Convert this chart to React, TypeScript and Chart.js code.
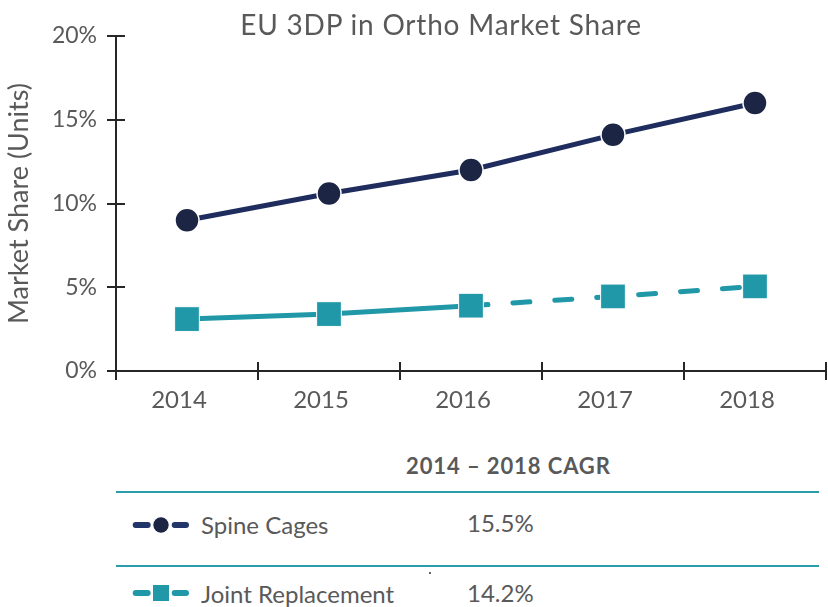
import React, { useEffect, useRef } from 'react';
import { Chart, registerables } from 'chart.js';

Chart.register(...registerables);

const categories = ['2014', '2015', '2016', '2017', '2018'];
const spineCages = [9.0, 10.6, 12.0, 14.1, 16.0];
const jointReplacement = [3.1, 3.4, 3.9, 4.45, 5.05];
const yTickValues = [0, 5, 10, 15, 20];
const seriesNames = ['Spine Cages', 'Joint Replacement'];
const cagrValues = ['15.5%', '14.2%'];
const chartTitle = 'EU 3DP in Ortho Market Share';
const yAxisTitle = 'Market Share (Units)';
const tableHeader = '2014 \u2013 2018 CAGR';

const NAVY_LINE = '#1F2D5E';
const NAVY_POINT = '#1C2644';
const TEAL = '#2098A8';
const AXIS = '#262626';
const TEXT = '#595959';
const FONT = 'Lato, "Noto Sans", sans-serif';

const crossTicks = {
  id: 'crossTicks',
  beforeDatasetsDraw(chart: any) {
    const { ctx, chartArea, scales } = chart;
    const x = scales.x;
    const y = scales.y;
    ctx.save();
    ctx.strokeStyle = AXIS;
    ctx.lineWidth = 2;
    ctx.beginPath();
    for (let i = 0; i <= categories.length; i++) {
      const px = Math.round(x.getPixelForValue(i - 0.5));
      ctx.moveTo(px, chartArea.bottom);
      ctx.lineTo(px, chartArea.bottom - 9);
    }
    y.ticks.forEach((t: any) => {
      const py = Math.round(y.getPixelForValue(t.value));
      ctx.moveTo(chartArea.left, py);
      ctx.lineTo(chartArea.left + 9, py);
    });
    ctx.stroke();
    ctx.restore();
  },
};

function LegendIcon({ kind }: { kind: 'circle' | 'square' }) {
  const color = kind === 'circle' ? '#22366A' : TEAL;
  return (
    <svg width="62" height="20" style={{ display: 'block' }}>
      <line x1="5.7" y1="10" x2="17.7" y2="10" stroke={color} strokeWidth="6" strokeLinecap="round" />
      <line x1="44.7" y1="10" x2="56" y2="10" stroke={color} strokeWidth="6" strokeLinecap="round" />
      {kind === 'circle' ? (
        <circle cx="31" cy="10" r="8.3" fill={NAVY_POINT} stroke="#fff" strokeWidth="1.2" />
      ) : (
        <rect x="22.5" y="1.5" width="17" height="17" fill={TEAL} stroke="#fff" strokeWidth="1" />
      )}
    </svg>
  );
}

export default function App() {
  const canvasRef = useRef<HTMLCanvasElement | null>(null);

  useEffect(() => {
    if (!canvasRef.current) return;
    const chart = new Chart(canvasRef.current, {
      type: 'line',
      data: {
        labels: categories,
        datasets: [
          {
            label: seriesNames[0],
            data: spineCages,
            borderColor: NAVY_LINE,
            borderWidth: 5,
            pointStyle: 'circle',
            pointRadius: 12,
            pointBackgroundColor: NAVY_POINT,
            pointBorderColor: '#ffffff',
            pointBorderWidth: 1.5,
            tension: 0,
          },
          {
            label: seriesNames[1],
            data: jointReplacement,
            borderColor: TEAL,
            borderWidth: 5,
            borderCapStyle: 'round',
            pointStyle: 'rect',
            pointRadius: 17.5,
            pointBackgroundColor: TEAL,
            pointBorderColor: '#ffffff',
            pointBorderWidth: 1,
            tension: 0,
            segment: {
              borderDash: (ctx: any) => (ctx.p0DataIndex >= 2 ? [17, 25] : undefined),
            },
          },
        ],
      },
      options: {
        animation: false,
        responsive: false,
        maintainAspectRatio: false,
        layout: { autoPadding: false, padding: { top: 36, right: 2, left: 0, bottom: 0 } },
        plugins: {
          legend: { display: false },
          title: { display: false },
          tooltip: { enabled: false },
        },
        scales: {
          x: {
            type: 'category',
            offset: true,
            border: { display: true, color: AXIS, width: 2 },
            grid: {
              display: true,
              offset: true,
              drawOnChartArea: false,
              drawTicks: true,
              tickLength: 9,
              color: AXIS,
              lineWidth: 2,
            },
            ticks: {
              color: TEXT,
              font: { family: FONT, size: 24 },
              padding: 6,
              labelOffset: -8,
              autoSkip: false,
              maxRotation: 0,
            },
            afterFit: (scale: any) => {
              scale.height = 49;
              scale.paddingLeft = 0;
              scale.paddingRight = 0;
            },
          },
          y: {
            min: 0,
            max: 20,
            afterBuildTicks: (scale: any) => {
              scale.ticks = yTickValues.map((v) => ({ value: v }));
            },
            border: { display: true, color: AXIS, width: 2 },
            grid: {
              display: true,
              drawOnChartArea: false,
              drawTicks: true,
              tickLength: 9,
              color: AXIS,
              lineWidth: 2,
            },
            ticks: {
              color: TEXT,
              font: { family: FONT, size: 23 },
              padding: 10,
              callback: (v: any) => v + '%',
            },
            title: {
              display: true,
              text: yAxisTitle,
              color: TEXT,
              font: { family: FONT, size: 27 },
              padding: { top: 3, bottom: 0 },
            },
            afterFit: (scale: any) => {
              scale.width = 116;
            },
          },
        },
      },
      plugins: [crossTicks],
    });
    return () => chart.destroy();
  }, []);

  const textBase: React.CSSProperties = {
    position: 'absolute',
    fontFamily: FONT,
    color: TEXT,
    whiteSpace: 'nowrap',
    lineHeight: 1.2,
  };

  return (
    <div style={{ position: 'absolute', left: 0, top: 0, width: 828, height: 607, background: '#fff', overflow: 'hidden' }}>
      <canvas ref={canvasRef} width={828} height={420} style={{ position: 'absolute', left: 0, top: 0, width: 828, height: 420 }} />
      <div style={{ ...textBase, left: 0, width: 882, top: 8, textAlign: 'center', fontSize: 28, letterSpacing: 0.8 }}>{chartTitle}</div>

      <div style={{ ...textBase, left: 406, top: 453, fontSize: 22, fontWeight: 700, letterSpacing: 0.9 }}>{tableHeader}</div>
      <div style={{ position: 'absolute', left: 116, top: 490.5, width: 703, height: 2, background: '#2A9DAB' }} />
      <div style={{ position: 'absolute', left: 116, top: 564.5, width: 703, height: 2, background: '#2A9DAB' }} />

      <div style={{ position: 'absolute', left: 130, top: 515 }}>
        <LegendIcon kind="circle" />
      </div>
      <div style={{ ...textBase, left: 201, top: 511, fontSize: 24 }}>{seriesNames[0]}</div>
      <div style={{ ...textBase, left: 467, top: 509, fontSize: 24 }}>{cagrValues[0]}</div>

      <div style={{ position: 'absolute', left: 130, top: 583 }}>
        <LegendIcon kind="square" />
      </div>
      <div style={{ ...textBase, left: 201, top: 579.5, fontSize: 24 }}>{seriesNames[1]}</div>
      <div style={{ ...textBase, left: 467, top: 579, fontSize: 24 }}>{cagrValues[1]}</div>

      <div style={{ position: 'absolute', left: 429, top: 572, width: 2, height: 2, background: '#333', borderRadius: 1 }} />
    </div>
  );
}
